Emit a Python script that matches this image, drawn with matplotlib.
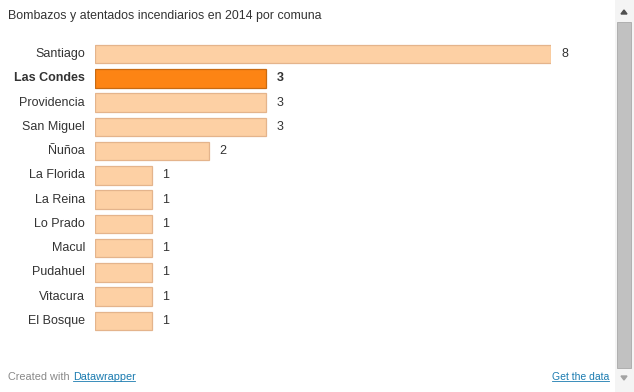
import matplotlib.pyplot as plt
from matplotlib.patches import Rectangle, Polygon

# data
comunas = ['Santiago', 'Las Condes', 'Providencia', 'San Miguel', 'Ñuñoa',
           'La Florida', 'La Reina', 'Lo Prado', 'Macul', 'Pudahuel',
           'Vitacura', 'El Bosque']
valores = [8, 3, 3, 3, 2, 1, 1, 1, 1, 1, 1, 1]
destacado = 'Las Condes'

W, H = 634, 392
plt.rcParams['font.family'] = ['Liberation Sans', 'DejaVu Sans']

fig = plt.figure(figsize=(W / 100, H / 100), dpi=100)
fig.patch.set_facecolor('white')

# axes in pixel positions: bars start at x=95, 8 units reach x=551
x0, x1 = 95, 551
ytop, ybot = 42, 333
ax = fig.add_axes([x0 / W, 1 - ybot / H, (x1 - x0) / W, (ybot - ytop) / H])
ax.set_xlim(0, 8)
ax.set_ylim(len(comunas) - 0.5, -0.5)
ax.axis('off')

for i, (c, v) in enumerate(zip(comunas, valores)):
    hl = c == destacado
    ax.barh(i, v, height=0.76, left=0,
            color='#fd8414' if hl else '#fdd0a4',
            edgecolor='#c86a12' if hl else '#e4b48c', linewidth=0.9)
    ax.annotate(str(v), (v, i), xytext=(7.5, 0), textcoords='offset points',
                va='center', ha='left', fontsize=9, color='#333333',
                fontweight='bold' if hl else 'normal')
    ax.annotate(c, (0, i), xytext=(-7.2, 0), textcoords='offset points',
                va='center', ha='right', fontsize=9, color='#333333',
                fontweight='bold' if hl else 'normal')

# title
fig.text(8 / W, 1 - 16 / H, 'Bombazos y atentados incendiarios en 2014 por comuna',
         fontsize=8.9, color='#333333', va='center', ha='left')

# footer
t1 = fig.text(8 / W, 1 - 377 / H, 'Created with ', fontsize=7.8, color='#888888',
              va='center', ha='left')
fig.canvas.draw()
bb = t1.get_window_extent()
fig.text(bb.x1 / W, 1 - 377 / H, 'Datawrapper', fontsize=7.8, color='#1a7bb0',
         va='center', ha='left')
fig.text(609 / W, 1 - 377 / H, 'Get the data', fontsize=7.5, color='#1a7bb0',
         va='center', ha='right')
# underlines
fig.canvas.draw()
for t in fig.texts[-2:]:
    b = t.get_window_extent()
    fig.add_artist(plt.Line2D([b.x0 / W, b.x1 / W], [(b.y0 + 1) / H] * 2,
                              color='#1a7bb0', lw=0.6, transform=fig.transFigure))

# scrollbar
def px_rect(x, y, w, h, **kw):
    fig.add_artist(Rectangle((x / W, 1 - (y + h) / H), w / W, h / H,
                             transform=fig.transFigure, **kw))

px_rect(615, 0, 19, 392, facecolor='#f4f4f4', edgecolor='none')
px_rect(617, 22, 14, 346, facecolor='#c1c1c1', edgecolor='#a8a8a8', lw=0.6)
fig.add_artist(Polygon([(621 / W, 1 - 14 / H), (627 / W, 1 - 14 / H), (624 / W, 1 - 10 / H)],
                       closed=True, transform=fig.transFigure, color='#505050'))
fig.add_artist(Polygon([(621 / W, 1 - 376 / H), (627 / W, 1 - 376 / H), (624 / W, 1 - 380 / H)],
                       closed=True, transform=fig.transFigure, color='#a3a3a3'))

fig.savefig('out.png', dpi=100, facecolor='white')
